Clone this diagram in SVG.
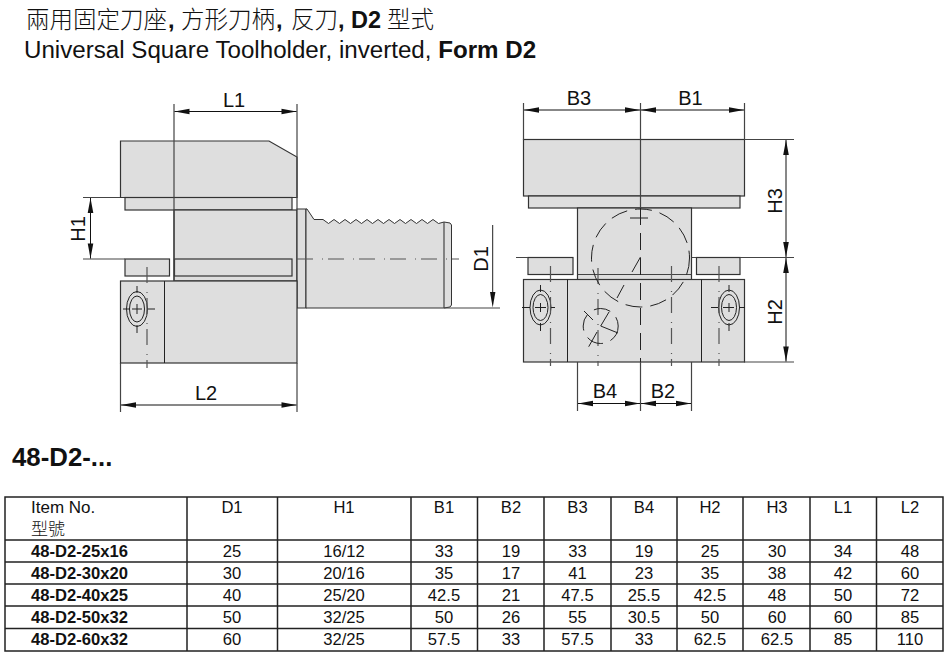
<svg xmlns="http://www.w3.org/2000/svg" width="950" height="657" viewBox="0 0 950 657">
<defs>
<marker id="a" markerUnits="userSpaceOnUse" markerWidth="16" markerHeight="8" refX="15" refY="3" orient="auto-start-reverse" overflow="visible"><path d="M0 0.2L15 3L0 5.8Z" fill="#111"/></marker>
</defs>
<style>
text{font-family:"Liberation Sans",Arial,"Noto Sans CJK TC",sans-serif;fill:#111}
.cjk{font-family:"Noto Sans CJK TC","Liberation Sans",sans-serif;font-weight:300}
.b{font-weight:700}
.p{fill:#dedede;stroke:#333;stroke-width:1.2}
.th{fill:#dedede;stroke:#333;stroke-width:1}
.l{fill:none;stroke:#222;stroke-width:1}
.g{fill:none;stroke:#444;stroke-width:1.2}
.cl{fill:none;stroke:#555;stroke-width:1.2;stroke-dasharray:16 9 1 5}
.hd{fill:none;stroke:#222;stroke-width:1;stroke-dasharray:17 8}
.d{fill:none;stroke:#111;stroke-width:1;marker-start:url(#a);marker-end:url(#a)}
.e{font-size:20px}
.m{text-anchor:middle;font-size:16.6px}
.tb{fill:none;stroke:#222;stroke-width:1.5}
</style>
<rect width="950" height="657" fill="#fff"/>
<g id="title">
<text y="28" font-size="23.5" class="cjk"><tspan x="26" textLength="141">兩用固定刀座</tspan><tspan x="181" textLength="94">方形刀柄</tspan><tspan x="291" textLength="47">反刀</tspan><tspan x="387" textLength="47">型式</tspan></text>
<text y="28" font-size="23.5" class="b"><tspan x="168">,</tspan><tspan x="276">,</tspan><tspan x="338">,</tspan><tspan x="351">D2</tspan></text>
<text x="24" y="58" font-size="24.150">Universal Square Toolholder, inverted, <tspan class="b">Form D2</tspan></text>
</g>
<g id="side-view">
<path class="p" d="M120.500 197.500V141H269L297 157V197.500Z"/>
<rect class="p" x="125" y="197.500" width="167" height="12.500"/>
<rect class="p" x="174" y="210" width="123" height="71"/>
<path class="p" d="M297 209H306V308H297Z"/>
<path class="th" d="M306 209H307L314 219.500H323L328.500 223.500L334 219.500L339.500 223.500L345 219.500L350.500 223.500L356 219.500L361.500 223.500L367 219.500L372.500 223.500L378 219.500L383.500 223.500L389 219.500L394.500 223.500L400 219.500L405.500 223.500L411 219.500L416.500 223.500L422 219.500L427.500 223.500L433 219.500L438.500 223.500L444 222L450 223L451.500 225V305L450 307L444 308H306Z"/>
<path class="g" d="M444 222V308"/>
<rect class="p" x="125" y="259" width="44.500" height="17"/>
<rect class="p" x="174.500" y="259" width="117.500" height="17"/>
<rect class="p" x="120.500" y="281" width="176.500" height="82"/>
<path class="l" d="M164.500 281V363"/>
<ellipse class="l" cx="137" cy="309" rx="10.500" ry="17.500"/>
<ellipse class="l" cx="137" cy="309" rx="7.500" ry="13"/>
<path class="l" d="M137 286V293M137 304V314M137 325V333M123 309H130M132 309H142M147 309H155"/>
<path class="cl" d="M147 267V368"/>
<path class="cl" d="M297 259H459"/>
</g>
<g id="front-view">
<rect class="p" x="523.500" y="139.500" width="221" height="56.500"/>
<rect class="p" x="528.500" y="196" width="211.500" height="12"/>
<rect class="p" x="577.500" y="208" width="114" height="72"/>
<rect class="p" x="528" y="257.500" width="45" height="17"/>
<rect class="p" x="696.500" y="257.500" width="43.500" height="17"/>
<path class="g" d="M577.500 274.500H691.500"/>
<rect class="p" x="523.500" y="279.500" width="221" height="82.500"/>
<path class="l" d="M567.500 279.500V362M701.500 279.500V362"/>
<ellipse class="l" cx="540.500" cy="307.500" rx="10.500" ry="17.500"/>
<ellipse class="l" cx="540.500" cy="307.500" rx="7.500" ry="13"/>
<path class="l" d="M540.500 285V292M540.500 303V312M540.500 323V331M522 307.500H530M535 307.500H546M551 307.500H555"/>
<ellipse class="l" cx="729" cy="307.500" rx="10.500" ry="17.500"/>
<ellipse class="l" cx="729" cy="307.500" rx="7.500" ry="13"/>
<path class="l" d="M729 285V292M729 303V312M729 323V331M711 307.500H718M723 307.500H734M739 307.500H745"/>
<path class="cl" d="M550.500 266V366M719 266V366M598 268V366M671.500 266V366"/>
<path class="hd" d="M640.500 208V363"/>
<circle class="hd" cx="640.500" cy="258" r="49"/>
<path class="l" d="M630 218H648M640.500 257L632 272M624 285L617 298"/>
<circle class="hd" cx="600.700" cy="326" r="17.500" stroke-dasharray="12 5"/>
<path class="l" d="M609 312L600.700 326L618 333M597 332L588.700 346.700M584 311L593 320"/>
</g>
<g id="connectors">
<path class="g" d="M83 197.500H120M83 259H125M174 104V281M297 104V209M120.500 363V412M297 363V412M444 308H500"/>
<path class="g" d="M523.500 103V140M640.500 103V208M744.500 103V140M744.500 139.500H794M516 257.500H528M691.500 257.500H696.500M740 257.500H794M744 362H794M577.500 362V411M691.500 362V411M640.500 362V411"/>
<path class="d" d="M174.500 111.500H296.500"/>
<path class="d" d="M90.500 198V258.500"/>
<path class="d" d="M121 405H296.500"/>
<path class="l" d="M492.700 225V292"/>
<path d="M490 292L492.700 307.500L495.400 292Z" fill="#111"/>
<path class="d" d="M524 110H640"/>
<path class="d" d="M641 110H744"/>
<path class="d" d="M786 140V257"/>
<path class="d" d="M786 258V361.500"/>
<path class="d" d="M578 403.500H640"/>
<path class="d" d="M641 403.500H691"/>
</g>
<g id="dimension-labels" class="e">
<text class="e" x="234" y="106.500" text-anchor="middle">L1</text>
<text class="e" x="206" y="400" text-anchor="middle">L2</text>
<text class="e" transform="translate(85 229) rotate(-90)" text-anchor="middle">H1</text>
<text class="e" transform="translate(488 259) rotate(-90)" text-anchor="middle">D1</text>
<text class="e" x="579" y="105" text-anchor="middle">B3</text>
<text class="e" x="690.500" y="105" text-anchor="middle">B1</text>
<text class="e" x="605" y="398" text-anchor="middle">B4</text>
<text class="e" x="663" y="398" text-anchor="middle">B2</text>
<text class="e" transform="translate(782 201) rotate(-90)" text-anchor="middle">H3</text>
<text class="e" transform="translate(782 312) rotate(-90)" text-anchor="middle">H2</text>
</g>
<g id="heading"><text class="b" x="12" y="466" font-size="25.800">48-D2-...</text></g>
<g id="table">
<path class="tb" d="M5 497H943V651H5ZM5 540H943M5 562H943M5 584H943M5 606H943M5 628.500H943M187 497V651M277.500 497V651M411 497V651M477.500 497V651M544 497V651M611 497V651M677 497V651M743 497V651M810 497V651M876.500 497V651"/>
<text x="31" y="513" font-size="17">Item No.</text>
<text x="31" y="535" font-size="17" class="cjk">型號</text>
<g class="hdr">
<text class="m" x="232" y="513">D1</text><text class="m" x="344" y="513">H1</text><text class="m" x="444" y="513">B1</text><text class="m" x="511" y="513">B2</text><text class="m" x="577.500" y="513">B3</text><text class="m" x="644" y="513">B4</text><text class="m" x="710" y="513">H2</text><text class="m" x="777" y="513">H3</text><text class="m" x="843" y="513">L1</text><text class="m" x="910" y="513">L2</text>
</g>
<text class="b" x="31" y="557" font-size="16.600">48-D2-25x16</text>
<text class="m" x="232" y="557">25</text><text class="m" x="344" y="557">16/12</text><text class="m" x="444" y="557">33</text><text class="m" x="511" y="557">19</text><text class="m" x="577.500" y="557">33</text><text class="m" x="644" y="557">19</text><text class="m" x="710" y="557">25</text><text class="m" x="777" y="557">30</text><text class="m" x="843" y="557">34</text><text class="m" x="910" y="557">48</text>
<text class="b" x="31" y="579" font-size="16.600">48-D2-30x20</text>
<text class="m" x="232" y="579">30</text><text class="m" x="344" y="579">20/16</text><text class="m" x="444" y="579">35</text><text class="m" x="511" y="579">17</text><text class="m" x="577.500" y="579">41</text><text class="m" x="644" y="579">23</text><text class="m" x="710" y="579">35</text><text class="m" x="777" y="579">38</text><text class="m" x="843" y="579">42</text><text class="m" x="910" y="579">60</text>
<text class="b" x="31" y="601" font-size="16.600">48-D2-40x25</text>
<text class="m" x="232" y="601">40</text><text class="m" x="344" y="601">25/20</text><text class="m" x="444" y="601">42.5</text><text class="m" x="511" y="601">21</text><text class="m" x="577.500" y="601">47.5</text><text class="m" x="644" y="601">25.5</text><text class="m" x="710" y="601">42.5</text><text class="m" x="777" y="601">48</text><text class="m" x="843" y="601">50</text><text class="m" x="910" y="601">72</text>
<text class="b" x="31" y="623" font-size="16.600">48-D2-50x32</text>
<text class="m" x="232" y="623">50</text><text class="m" x="344" y="623">32/25</text><text class="m" x="444" y="623">50</text><text class="m" x="511" y="623">26</text><text class="m" x="577.500" y="623">55</text><text class="m" x="644" y="623">30.5</text><text class="m" x="710" y="623">50</text><text class="m" x="777" y="623">60</text><text class="m" x="843" y="623">60</text><text class="m" x="910" y="623">85</text>
<text class="b" x="31" y="645" font-size="16.600">48-D2-60x32</text>
<text class="m" x="232" y="645">60</text><text class="m" x="344" y="645">32/25</text><text class="m" x="444" y="645">57.5</text><text class="m" x="511" y="645">33</text><text class="m" x="577.500" y="645">57.5</text><text class="m" x="644" y="645">33</text><text class="m" x="710" y="645">62.5</text><text class="m" x="777" y="645">62.5</text><text class="m" x="843" y="645">85</text><text class="m" x="910" y="645">110</text>
</g>
</svg>
